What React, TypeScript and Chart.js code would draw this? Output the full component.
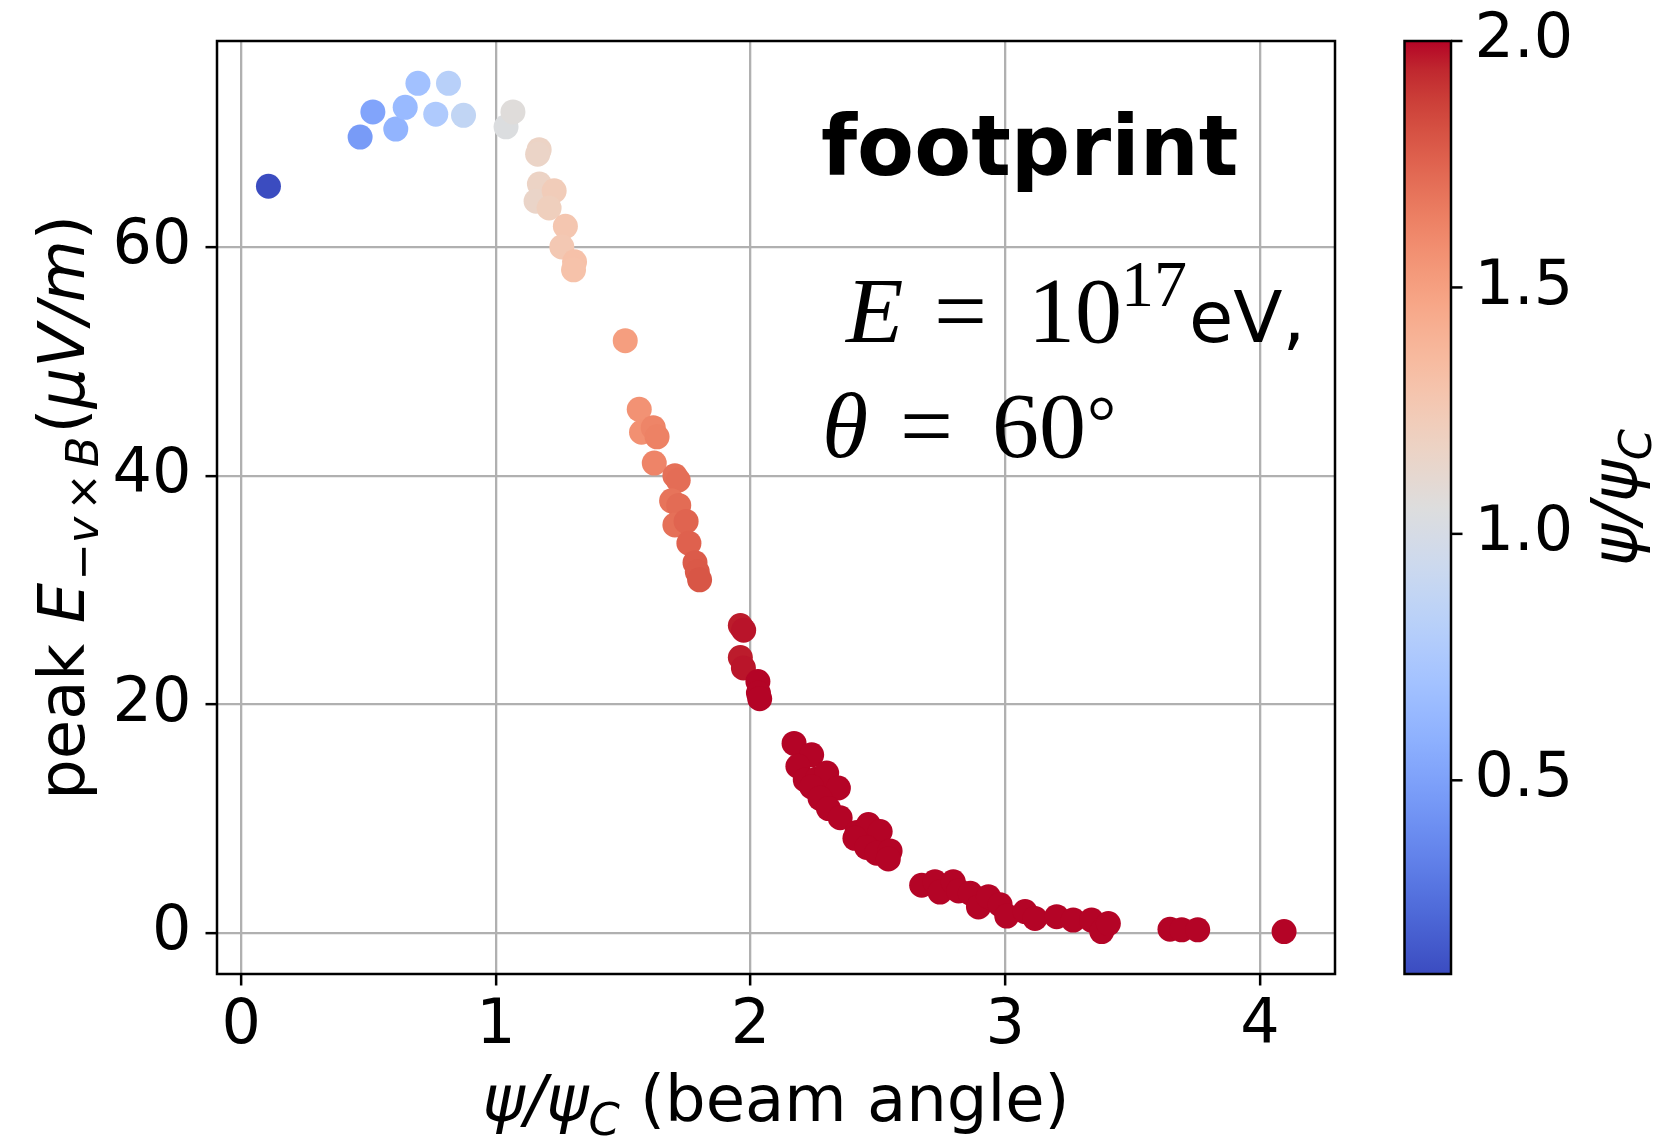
import React, { useEffect, useRef } from "react";
import { Chart, registerables } from "chart.js";

Chart.register(...registerables);

// ---- data ----
const psiRatio = [
  0.107, 0.467, 0.517, 0.607, 0.644, 0.694, 0.764, 0.814, 0.873, 1.04, 1.067,
  1.17, 1.164, 1.171, 1.158, 1.229, 1.209, 1.273, 1.259, 1.309, 1.305,
  1.508, 1.563, 1.572, 1.618, 1.633, 1.622, 1.703, 1.716, 1.69, 1.718, 1.703,
  1.747, 1.758, 1.782, 1.791, 1.8, 1.96, 1.973, 1.96, 1.972, 2.029, 2.031, 2.036,
  2.171, 2.24, 2.186, 2.215, 2.262, 2.299, 2.24, 2.345, 2.273, 2.306, 2.352,
  2.418, 2.463, 2.509, 2.41, 2.456, 2.495, 2.548, 2.541,
  2.672, 2.724, 2.744, 2.796, 2.817, 2.863, 2.895, 2.934, 2.98, 3.006, 3.078,
  3.117, 3.202, 3.267, 3.339, 3.379, 3.405, 3.647, 3.693, 3.756, 4.095,
];
const peakField = [
  65.3, 69.6, 71.8, 70.3, 72.2, 74.3, 71.6, 74.3, 71.5, 70.5, 71.8,
  68.5, 68.1, 65.5, 64.0, 64.9, 63.4, 61.8, 60.0, 58.7, 58.0,
  51.8, 45.8, 43.8, 44.2, 43.4, 41.1, 40.0, 39.6, 37.8, 37.4, 35.7,
  36.0, 34.1, 32.4, 31.6, 30.9, 26.9, 26.5, 24.1, 23.2, 22.0, 21.0, 20.5,
  16.6, 15.6, 14.6, 13.4, 13.5, 14.0, 12.8, 12.7, 11.8, 10.9, 10.1,
  8.8, 9.5, 8.9, 8.3, 7.5, 7.0, 7.2, 6.5,
  4.2, 4.5, 3.6, 4.5, 3.7, 3.5, 2.3, 3.2, 2.5, 1.5, 1.9,
  1.3, 1.45, 1.15, 1.15, 0.15, 0.85, 0.35, 0.3, 0.3, 0.15,
];
const xTickValues = [0, 1, 2, 3, 4];
const yTickValues = [0, 20, 40, 60];
const colorbarTicks = [0.5, 1.0, 1.5, 2.0];
const colorbarTickLabels = ["0.5", "1.0", "1.5", "2.0"];
const colorMax = 2.0;
const xRange = [-0.095, 4.295];
const yRange = [-3.56, 78.0];

// matplotlib "coolwarm" colormap table
const COOLWARM = [
  [59, 76, 192], [68, 90, 204], [77, 104, 215], [87, 117, 225], [98, 130, 234],
  [108, 142, 241], [119, 154, 247], [130, 165, 251], [141, 176, 254], [152, 185, 255],
  [163, 194, 255], [174, 201, 253], [184, 208, 249], [194, 213, 244], [204, 217, 238],
  [213, 219, 230], [221, 221, 221], [229, 216, 209], [236, 211, 197], [241, 204, 185],
  [245, 196, 173], [247, 187, 160], [247, 177, 148], [247, 166, 135], [244, 154, 123],
  [241, 141, 111], [236, 127, 99], [229, 112, 88], [222, 96, 77], [213, 80, 66],
  [203, 62, 56], [192, 40, 47], [180, 4, 38],
];

function coolwarm(t: number): string {
  const c = Math.max(0, Math.min(1, t));
  const pos = c * (COOLWARM.length - 1);
  const i = Math.min(Math.floor(pos), COOLWARM.length - 2);
  const f = pos - i;
  const a = COOLWARM[i];
  const b = COOLWARM[i + 1];
  const r = Math.round(a[0] + (b[0] - a[0]) * f);
  const g = Math.round(a[1] + (b[1] - a[1]) * f);
  const bl = Math.round(a[2] + (b[2] - a[2]) * f);
  return `rgb(${r},${g},${bl})`;
}

const W = 1661;
const H = 1144;
const SANS = "'DejaVu Sans'";
const SERIF = "'Liberation Serif'";
const TICK_FONT = 62;
const LABEL_FONT = 64;
const LINE_W = 2.5;
const TICK_LEN = 11.5;

type Run = { text: string; font: string; dy?: number; gap?: number };

function runsWidth(ctx: CanvasRenderingContext2D, runs: Run[]) {
  let w = 0;
  for (const r of runs) {
    ctx.font = r.font;
    w += ctx.measureText(r.text).width + (r.gap || 0);
  }
  return w;
}

function drawRuns(ctx: CanvasRenderingContext2D, runs: Run[], x: number, y: number) {
  let cx = x;
  for (const r of runs) {
    ctx.font = r.font;
    ctx.fillText(r.text, cx, y + (r.dy || 0));
    cx += ctx.measureText(r.text).width + (r.gap || 0);
  }
}

const vmin = Math.min(...psiRatio);
const pointColors = psiRatio.map((v) => coolwarm((v - vmin) / (colorMax - vmin)));

const overlayPlugin = {
  id: "overlay",
  afterDraw(chart: any) {
    const ctx: CanvasRenderingContext2D = chart.ctx;
    const ca = chart.chartArea;
    ctx.save();
    ctx.fillStyle = "#000";
    ctx.textBaseline = "alphabetic";
    ctx.textAlign = "left";

    // frame
    ctx.strokeStyle = "#000";
    ctx.lineWidth = LINE_W;
    ctx.strokeRect(ca.left, ca.top, ca.right - ca.left, ca.bottom - ca.top);

    // x axis label
    const it = (s: number) => `italic ${s}px ${SANS}`;
    const rm = (s: number) => `${s}px ${SANS}`;
    const sub = LABEL_FONT * 0.7;
    const subDy = 14;
    const xRuns: Run[] = [
      { text: "ψ", font: it(LABEL_FONT) },
      { text: "/", font: it(LABEL_FONT) },
      { text: "ψ", font: it(LABEL_FONT) },
      { text: "C", font: it(sub), dy: subDy },
      { text: " (beam angle)", font: rm(LABEL_FONT) },
    ];
    const xw = runsWidth(ctx, xRuns);
    drawRuns(ctx, xRuns, (ca.left + ca.right) / 2 - xw / 2, 1121);

    // y axis label
    const yRuns: Run[] = [
      { text: "peak ", font: rm(LABEL_FONT) },
      { text: "E", font: it(LABEL_FONT), gap: 2 },
      { text: "−", font: rm(sub), dy: subDy },
      { text: "v", font: it(sub), dy: subDy, gap: 6 },
      { text: "×", font: rm(sub), dy: subDy, gap: 6 },
      { text: "B", font: it(sub), dy: subDy, gap: 3 },
      { text: "(", font: rm(LABEL_FONT) },
      { text: "μV", font: it(LABEL_FONT) },
      { text: "/", font: it(LABEL_FONT) },
      { text: "m", font: it(LABEL_FONT) },
      { text: ")", font: rm(LABEL_FONT) },
    ];
    const yw = runsWidth(ctx, yRuns);
    ctx.save();
    ctx.translate(84, (ca.top + ca.bottom) / 2);
    ctx.rotate(-Math.PI / 2);
    drawRuns(ctx, yRuns, -yw / 2, 0);
    ctx.restore();

    // annotations
    ctx.font = `bold 83px ${SANS}`;
    ctx.fillText("footprint", 821, 175);

    ctx.font = `italic 94px ${SERIF}`;
    ctx.fillText("E", 846, 342);
    ctx.font = `94px ${SERIF}`;
    ctx.fillText("=", 934, 342);
    ctx.fillText("10", 1028, 342);
    ctx.font = `66px ${SERIF}`;
    ctx.fillText("17", 1121, 306);
    ctx.font = `72px ${SANS}`;
    ctx.fillText("eV,", 1189, 342);

    ctx.font = `italic 94px ${SERIF}`;
    ctx.fillText("θ", 822, 457);
    ctx.font = `94px ${SERIF}`;
    ctx.fillText("=", 900, 457);
    ctx.fillText("60", 992, 457);
    ctx.font = `73px ${SERIF}`;
    ctx.fillText("°", 1087, 447);

    // colorbar
    const cb = { left: 1404.5, right: 1451, top: ca.top, bottom: ca.bottom };
    const grad = ctx.createLinearGradient(0, cb.bottom, 0, cb.top);
    COOLWARM.forEach((c, i) => {
      grad.addColorStop(i / (COOLWARM.length - 1), `rgb(${c[0]},${c[1]},${c[2]})`);
    });
    ctx.fillStyle = grad;
    ctx.fillRect(cb.left, cb.top, cb.right - cb.left, cb.bottom - cb.top);
    ctx.strokeStyle = "#000";
    ctx.lineWidth = LINE_W;
    ctx.strokeRect(cb.left, cb.top, cb.right - cb.left, cb.bottom - cb.top);

    ctx.fillStyle = "#000";
    ctx.font = `${TICK_FONT}px ${SANS}`;
    ctx.textBaseline = "middle";
    colorbarTicks.forEach((v, i) => {
      const y = cb.bottom - ((v - vmin) / (colorMax - vmin)) * (cb.bottom - cb.top);
      ctx.beginPath();
      ctx.moveTo(cb.right, y);
      ctx.lineTo(cb.right + TICK_LEN, y);
      ctx.stroke();
      ctx.fillText(colorbarTickLabels[i], cb.right + TICK_LEN + 12, y);
    });
    ctx.textBaseline = "alphabetic";

    const cRuns: Run[] = [
      { text: "ψ", font: it(LABEL_FONT) },
      { text: "/", font: it(LABEL_FONT) },
      { text: "ψ", font: it(LABEL_FONT) },
      { text: "C", font: it(sub), dy: subDy },
    ];
    const cw = runsWidth(ctx, cRuns);
    ctx.save();
    ctx.translate(1637, (cb.top + cb.bottom) / 2 - 10);
    ctx.rotate(-Math.PI / 2);
    drawRuns(ctx, cRuns, -cw / 2, 0);
    ctx.restore();

    ctx.restore();
  },
};

export default function App() {
  const canvasRef = useRef<HTMLCanvasElement | null>(null);

  useEffect(() => {
    const canvas = canvasRef.current;
    if (!canvas) return;
    const points = psiRatio.map((x, i) => ({ x, y: peakField[i] }));
    const gridStyle = {
      color: "#b0b0b0",
      lineWidth: 2.3,
      tickColor: "#000",
      tickLength: TICK_LEN,
      tickWidth: LINE_W,
    };
    const chart = new Chart(canvas, {
      type: "scatter",
      data: {
        datasets: [
          {
            data: points,
            pointBackgroundColor: pointColors,
            pointBorderWidth: 0,
            pointRadius: 12.5,
            pointHoverRadius: 12.5,
          },
        ],
      },
      options: {
        responsive: false,
        animation: false,
        devicePixelRatio: 1,
        events: [],
        layout: { padding: { left: 0, top: 41, right: 326, bottom: 0 } },
        plugins: { legend: { display: false }, tooltip: { enabled: false } },
        scales: {
          x: {
            type: "linear",
            min: xRange[0],
            max: xRange[1],
            afterBuildTicks: (s: any) => {
              s.ticks = xTickValues.map((v) => ({ value: v }));
            },
            afterFit: (s: any) => {
              s.height = 170;
            },
            grid: gridStyle,
            border: { display: false },
            ticks: {
              font: { family: "DejaVu Sans", size: TICK_FONT, lineHeight: 1.2 },
              color: "#000",
              maxRotation: 0,
              autoSkip: false,
              padding: 4,
              callback: (v: any) => String(v),
            },
          },
          y: {
            type: "linear",
            min: yRange[0],
            max: yRange[1],
            afterBuildTicks: (s: any) => {
              s.ticks = yTickValues.map((v) => ({ value: v }));
            },
            afterFit: (s: any) => {
              s.width = 217;
            },
            grid: gridStyle,
            border: { display: false },
            ticks: {
              font: { family: "DejaVu Sans", size: TICK_FONT, lineHeight: 0.8 },
              color: "#000",
              autoSkip: false,
              padding: 14,
              callback: (v: any) => String(v),
            },
          },
        },
      },
      plugins: [overlayPlugin],
    } as any);
    return () => chart.destroy();
  }, []);

  return (
    <div style={{ position: "fixed", left: 0, top: 0, width: W, height: H, background: "#fff" }}>
      <canvas ref={canvasRef} width={W} height={H} style={{ display: "block", width: W, height: H }} />
    </div>
  );
}
